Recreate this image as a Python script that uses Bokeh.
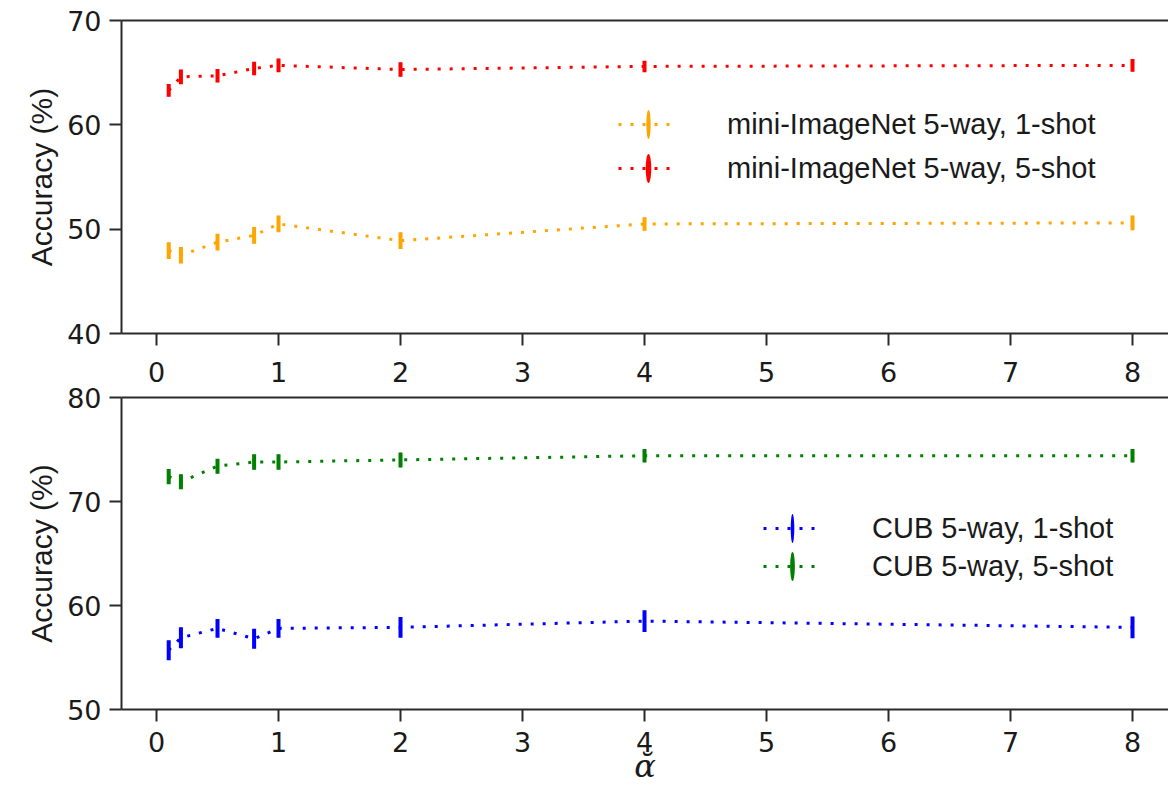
from bokeh.plotting import figure
from bokeh.models import (Legend, LegendItem, LinearAxis, FixedTicker, Range1d)
from bokeh.layouts import column
from bokeh.embed import file_html
from bokeh.resources import INLINE

# ---- data ----
alpha = [0.1, 0.2, 0.5, 0.8, 1, 2, 4, 8]
x_ticks = [0, 1, 2, 3, 4, 5, 6, 7, 8]
top_y_ticks = [40, 50, 60, 70]
bot_y_ticks = [50, 60, 70, 80]

mini_1shot = [47.95, 47.5, 48.75, 49.4, 50.5, 48.9, 50.5, 50.6]
mini_1shot_err = [0.8, 0.8, 0.8, 0.8, 0.8, 0.8, 0.65, 0.7]
mini_5shot = [63.3, 64.6, 64.7, 65.4, 65.7, 65.3, 65.6, 65.7]
mini_5shot_err = [0.62, 0.7, 0.65, 0.65, 0.65, 0.7, 0.55, 0.62]
cub_1shot = [55.7, 56.9, 57.8, 56.8, 57.8, 57.9, 58.5, 57.9]
cub_1shot_err = [0.96, 1.0, 0.91, 0.96, 0.91, 0.99, 1.04, 1.04]
cub_5shot = [72.4, 71.9, 73.4, 73.8, 73.8, 74.0, 74.4, 74.4]
cub_5shot_err = [0.73, 0.73, 0.72, 0.74, 0.74, 0.72, 0.64, 0.64]

labels_top = ["mini-ImageNet 5-way, 1-shot", "mini-ImageNet 5-way, 5-shot"]
labels_bot = ["CUB 5-way, 1-shot", "CUB 5-way, 5-shot"]
x_label = "\u1fb0"

TICK_FONT = "DejaVu Sans"
TEXT_FONT = "Liberation Sans"
TICK_SIZE = "27px"
AX_COLOR = "#2a2a2a"
TXT_COLOR = "#1a1a1a"

x_range = Range1d(-0.287, 8.295)


def style_axis(ax):
    ax.axis_line_color = AX_COLOR
    ax.axis_line_width = 2
    ax.major_tick_line_color = AX_COLOR
    ax.major_tick_line_width = 2
    ax.major_tick_out = 12
    ax.major_tick_in = 0
    ax.minor_tick_line_color = None
    ax.major_label_text_font = TICK_FONT
    ax.major_label_text_font_size = TICK_SIZE
    ax.major_label_text_color = TXT_COLOR
    ax.major_label_standoff = 8


def make_fig(ylo, yhi, yticks, frame_h, top_border, bottom_border):
    p = figure(frame_width=1047, frame_height=frame_h,
               output_backend="svg", toolbar_location=None,
               x_range=x_range, y_range=Range1d(ylo, yhi),
               min_border_left=121, min_border_right=0, min_border_top=top_border,
               min_border_bottom=bottom_border)
    p.outline_line_color = None
    p.xgrid.visible = False
    p.ygrid.visible = False
    p.background_fill_color = "white"
    p.border_fill_color = "white"
    style_axis(p.xaxis[0])
    style_axis(p.yaxis[0])
    p.xaxis[0].ticker = FixedTicker(ticks=x_ticks)
    p.yaxis[0].ticker = FixedTicker(ticks=yticks)
    p.yaxis[0].axis_label = "Accuracy (%)"
    p.yaxis[0].axis_label_text_font = TEXT_FONT
    p.yaxis[0].axis_label_text_font_style = "normal"
    p.yaxis[0].axis_label_text_font_size = "30px"
    p.yaxis[0].axis_label_text_color = TXT_COLOR
    p.yaxis[0].axis_label_standoff = 6
    return p


def add_series(p, ys, errs, color):
    line = p.line(alpha, ys, line_color=color, line_width=3, line_dash="3 9")
    upper = [y + e for y, e in zip(ys, errs)]
    lower = [y - e for y, e in zip(ys, errs)]
    p.vbar(x=alpha, width=0.033, top=upper, bottom=lower,
           fill_color=color, line_color=None)
    # thin ellipse inside each bar: gives the legend its vertical bar sample
    mark = p.ellipse(x=alpha, y=ys, width=2.5, width_units="screen",
                     height=[2 * e for e in errs], fill_color=color, line_color=None)
    return line, mark


def add_legend(p, items, labels, loc, glyph_w, standoff, spacing):
    leg = Legend(items=[LegendItem(label=lab, renderers=list(rs)) for lab, rs in zip(labels, items)],
                 location=loc, orientation="vertical", glyph_width=glyph_w,
                 glyph_height=36, label_height=36, spacing=spacing, padding=0, margin=0,
                 border_line_color=None, background_fill_alpha=0,
                 label_standoff=standoff, label_text_font=TEXT_FONT,
                 label_text_font_size="29px", label_text_color=TXT_COLOR)
    p.add_layout(leg, "center")


# ---- top panel ----
p1 = make_fig(40, 70, top_y_ticks, 313, 20, 16)
p1.xaxis[0].major_label_text_color = None      # its numbers are drawn by the panel below
p1.xaxis[0].major_label_standoff = 0
top_spine1 = LinearAxis(ticker=FixedTicker(ticks=[]), axis_line_color=AX_COLOR, axis_line_width=2,
                        major_tick_line_color=None, minor_tick_line_color=None,
                        major_tick_out=0, minor_tick_out=0, major_label_standoff=0)
p1.add_layout(top_spine1, "above")
s1 = add_series(p1, mini_1shot, mini_1shot_err, "#FFA500")
s2 = add_series(p1, mini_5shot, mini_5shot_err, "#FF0000")
add_legend(p1, [s1, s2], labels_top, (497, 147), 60, 49, 8)

# ---- bottom panel ----
p2 = make_fig(50, 80, bot_y_ticks, 312, 48, 83)
p2.xaxis[0].axis_label = x_label
p2.xaxis[0].axis_label_text_font = "DejaVu Serif"
p2.xaxis[0].axis_label_text_font_style = "italic"
p2.xaxis[0].axis_label_text_font_size = "32px"
p2.xaxis[0].axis_label_text_color = TXT_COLOR
p2.xaxis[0].axis_label_standoff = -8
p2.xaxis[0].major_label_standoff = 10
# top spine of the lower panel, carrying the tick numbers of the upper panel's x axis
top_axis2 = LinearAxis(ticker=FixedTicker(ticks=x_ticks), axis_line_color=AX_COLOR, axis_line_width=2,
                       major_tick_line_color=None, minor_tick_line_color=None,
                       major_tick_out=0, minor_tick_out=0, major_label_standoff=16,
                       major_label_text_font=TICK_FONT, major_label_text_font_size=TICK_SIZE,
                       major_label_text_color=TXT_COLOR)
p2.add_layout(top_axis2, "above")
s3 = add_series(p2, cub_1shot, cub_1shot_err, "#0000FF")
s4 = add_series(p2, cub_5shot, cub_5shot_err, "#008000")
add_legend(p2, [s3, s4], labels_bot, (642, 125), 58, 51, 2)

layout = column(p1, p2, spacing=0)
open("out.html", "w").write(file_html(layout, INLINE))
